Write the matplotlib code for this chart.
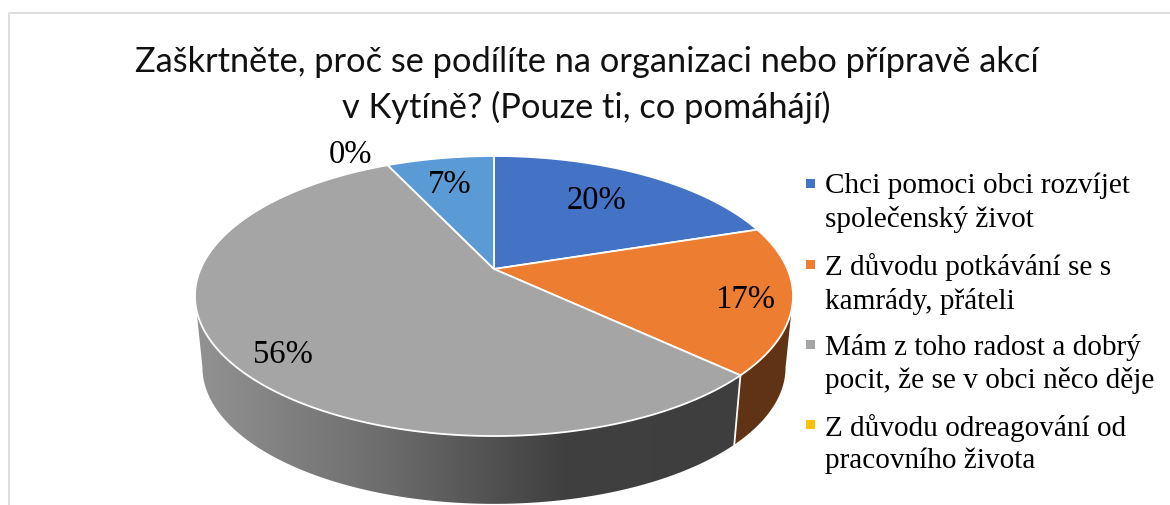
import numpy as np
from matplotlib import pyplot as plt
from matplotlib.colors import LinearSegmentedColormap
from matplotlib.patches import Polygon

categories = [
    'Chci pomoci obci rozvíjet\nspolečenský život',
    'Z důvodu potkávání se s\nkamrády, přáteli',
    'Mám z toho radost a dobrý\npocit, že se v obci něco děje',
    'Z důvodu odreagování od\npracovního života',
    '',
]
values = [20, 17, 56, 0, 7]
labels = ['20%', '17%', '56%', '0%', '7%']
colors = ['#4472C4', '#ED7D31', '#A5A5A5', '#FFC000', '#5B9BD5']
title = 'Zaškrtněte, proč se podílíte na organizaci nebo přípravě akcí\nv Kytíně? (Pouze ti, co pomáhájí)'

# tilted pie, pixel layout
CX, CY = 494, 270
A, B, K = 293.4, 134.8, 0.193
DEPTH, SHRINK = 72, 0.975


def rim(theta, lower=False):
    x = A * np.sin(theta) / (1 + K * np.cos(theta))
    y = B * np.cos(theta) / (1 + K * np.cos(theta))
    if lower:
        return CX + SHRINK * x, CY + DEPTH - SHRINK * y
    return CX + x, CY - y


def side_poly(t0, t1):
    t = np.linspace(t0, t1, 120)
    x0, y0 = rim(t)
    x1, y1 = rim(t[::-1], lower=True)
    return np.column_stack([np.r_[x0, x1], np.r_[y0, y1]])


if __name__ == '__main__':
    fig = plt.figure(figsize=(11.7, 5.06), dpi=100)
    ax = fig.add_axes([0, 0, 1, 1])

    # chart frame
    ax.plot([8.5, 8.5, 1170], [506, 13.5, 13.5], color='#dedede', lw=1.4)

    edges = 2 * np.pi * np.cumsum([0] + values) / sum(values)

    # outer wall, only the part facing the viewer (silhouette where cos = -K)
    t_right = np.arccos(-K)
    t_left = 2 * np.pi - t_right
    wall = Polygon(side_poly(edges[2], t_left), closed=True, fc='none', ec='none')
    ax.add_patch(wall)
    cmap = LinearSegmentedColormap.from_list('wall', ['#929292', '#6e6e6e', '#404040', '#3e3e3e'])
    im = ax.imshow(np.linspace(0, 1, 256).reshape(1, -1), extent=(196, 745, 506, 290),
                   cmap=cmap, aspect='auto', zorder=1)
    im.set_clip_path(wall)
    ax.add_patch(Polygon(side_poly(t_right, edges[2]), closed=True, fc='#5F3314', ec='none', zorder=1))
    x0, y0 = rim(np.array([edges[2]]))
    x1, y1 = rim(np.array([edges[2]]), lower=True)
    ax.plot([x0[0], x1[0]], [y0[0], y1[0]], color='white', lw=1.3, zorder=2)

    # top face
    for i, v in enumerate(values):
        if v == 0:
            continue
        t = np.linspace(edges[i], edges[i + 1], 150)
        x, y = rim(t)
        pts = np.column_stack([np.r_[CX, x], np.r_[CY, y]])
        ax.add_patch(Polygon(pts, closed=True, fc=colors[i], ec='white', lw=1.3, zorder=3))

    # data labels
    label_pos = [(596, 201), (745, 300), (283, 355), (351, 155), (450, 185)]
    for (lx, ly), s in zip(label_pos, labels):
        ax.text(lx, ly, s, ha='center', va='center', fontsize=23.5,
                family='Liberation Serif', color='black', zorder=4)

    ax.text(586.5, 85, title, ha='center', va='center', fontsize=24.76, family='Lato',
            color='#111111', linespacing=1.5)

    # legend
    legend_y = [200, 281, 361, 441]
    for i, ly in enumerate(legend_y):
        ax.add_patch(Polygon([(806, ly - 20), (815, ly - 20), (815, ly - 11), (806, ly - 11)],
                             closed=True, fc=colors[i], ec='none'))
        ax.text(825, ly + 3, categories[i], ha='left', va='center', fontsize=21.1,
                family='Liberation Serif', color='black', linespacing=1.31)

    ax.set_xlim(0, 1170)
    ax.set_ylim(506, 0)
    ax.axis('off')
    plt.savefig('out.png', dpi=100)
